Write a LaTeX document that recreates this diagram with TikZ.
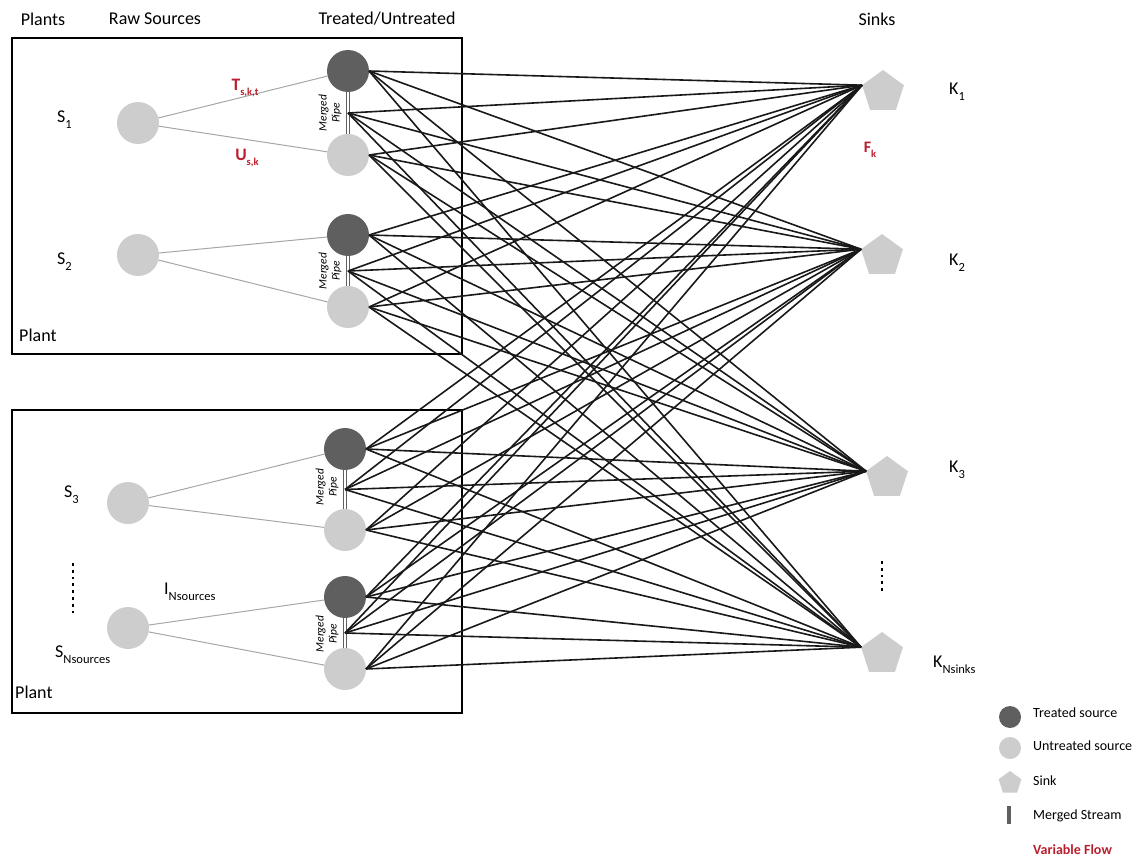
\documentclass[tikz,border=0pt]{standalone}
\usepackage{fontspec}
\setmainfont{Carlito}
\usetikzlibrary{shapes.geometric,calc}
\definecolor{treatedc}{RGB}{95,95,95}
\definecolor{rawc}{RGB}{205,205,205}
\definecolor{flowred}{RGB}{185,30,45}
\newcommand{\subtxt}[1]{\raisebox{-0.32em}{\fontsize{12.5}{12.5}\selectfont #1}}
\newcommand{\smallsub}[1]{\raisebox{-0.3em}{\fontsize{10.5}{10.5}\selectfont #1}}

\begin{document}
\begin{tikzpicture}[x=1pt,y=-1pt,
  treated/.style={circle,fill=treatedc,minimum size=42pt,inner sep=0pt,outer sep=0pt},
  untreated/.style={circle,fill=rawc,minimum size=42pt,inner sep=0pt,outer sep=0pt},
  sink/.style={regular polygon,regular polygon sides=5,fill=rawc,minimum size=44pt,inner sep=0pt,outer sep=0pt},
  flow/.style={line width=1.6pt,black!90},
  feed/.style={line width=1pt,gray!70},
  pipe/.style={draw=treatedc,double=white,line width=1.2pt,double distance=1.3pt},
  plantbox/.style={line width=2.6pt},
  head/.style={font=\fontsize{18}{20}\selectfont},
  lab/.style={font=\fontsize{18}{20}\selectfont,anchor=west,inner sep=0pt},
  var/.style={font=\bfseries\fontsize{17.5}{20}\selectfont,text=flowred},
  pipelab/.style={font=\itshape\fontsize{11.5}{13}\selectfont,rotate=90,align=center,inner sep=0pt},
  legtxt/.style={font=\fontsize{14}{16}\selectfont,anchor=west,inner sep=0pt},
  dotcol/.style={line width=2.8pt,dash pattern=on 2.8pt off 4pt}
]
\useasboundingbox (0,0) rectangle (1141,859);

% column headings
\node[head] (hplants) at (43,19) {Plants};
\node[head] (hraw) at (155,19) {Raw Sources};
\node[head] (htreat) at (387,19) {Treated/Untreated};
\node[head] (hsinks) at (877,19) {Sinks};

% plant boxes
\draw[plantbox] (12,38) rectangle (462,354);
\draw[plantbox] (12,410) rectangle (462,713);
\node[lab] (plant1) at (19,335) {Plant};
\node[lab] (plant2) at (15,692) {Plant};

% raw sources
\node[untreated] (r1) at (138,123) {};
\node[untreated] (r2) at (138,255) {};
\node[untreated] (r3) at (128,503) {};
\node[untreated] (r4) at (128,628) {};

% treated / untreated pairs
\node[treated] (t1) at (348,71) {};
\node[untreated] (u1) at (348,155) {};
\node[treated] (t2) at (348,235) {};
\node[untreated] (u2) at (348,307) {};
\node[treated] (t3) at (345,449) {};
\node[untreated] (u3) at (345,530) {};
\node[treated] (t4) at (345,597) {};
\node[untreated] (u4) at (345,669) {};

% merged pipes and feeds from the raw sources
\foreach \g in {1,...,4}{
  \coordinate (p\g) at ($(t\g.south)!0.5!(u\g.north)$);
  \draw[pipe] (t\g.south) -- (u\g.north);
  \draw[feed] (r\g) -- (t\g);
  \draw[feed] (r\g) -- (u\g);
}
\node[pipelab] (ml1) at (330,113) {Merged\\Pipe};
\node[pipelab] (ml2) at (330,271) {Merged\\Pipe};
\node[pipelab] (ml3) at (327,487) {Merged\\Pipe};
\node[pipelab] (ml4) at (327,634) {Merged\\Pipe};

% sinks
\node[sink] (k1) at (883,92) {};
\node[sink] (k2) at (882,256) {};
\node[sink] (k3) at (887,478) {};
\node[sink] (k4) at (882,654) {};

% flows to every sink
\foreach \g in {1,...,4}{
  \foreach \k in {1,...,4}{
    \draw[flow] (t\g.east) -- (k\k.corner 2);
    \draw[flow] (p\g) -- (k\k.corner 2);
    \draw[flow] (u\g.east) -- (k\k.corner 2);
  }
}

% source labels
\node[lab] (s1) at (57,120) {S\subtxt{1}};
\node[lab] (s2) at (57,262) {S\subtxt{2}};
\node[lab] (s3) at (64,495) {S\subtxt{3}};
\node[lab] (s4) at (55,655) {S\subtxt{Nsources}};
\node[lab] (inl) at (164,592) {I\subtxt{Nsources}};
\coordinate (sd1) at (73,563);
\coordinate (sd2) at (73,614);
\draw[dotcol] (sd1) -- (sd2);

% sink labels
\node[lab] (kl1) at (949,92) {K\subtxt{1}};
\node[lab] (kl2) at (949,263) {K\subtxt{2}};
\node[lab] (kl3) at (949,470) {K\subtxt{3}};
\node[lab] (kl4) at (933,665) {K\subtxt{Nsinks}};
\coordinate (kd1) at (882,561);
\coordinate (kd2) at (882,591);
\draw[dotcol] (kd1) -- (kd2);

% variable flow labels
\node[var] (tv) at (245,88) {T\smallsub{s,k,t}};
\node[var] (uv) at (247,158) {U\smallsub{s,k}};
\node[var,font=\bfseries\fontsize{16}{18}\selectfont] (fv) at (870,150) {F\smallsub{k}};

% legend
\node[treated,minimum size=22pt] (legt) at (1010,717) {};
\node[legtxt] (legtt) at (1033,713) {Treated source};
\node[untreated,minimum size=22pt] (legu) at (1010,748) {};
\node[legtxt] (leguu) at (1033,746) {Untreated source};
\node[sink,minimum size=24pt] (legs) at (1010,783) {};
\node[legtxt] (legss) at (1033,781) {Sink};
\node[fill=treatedc,minimum width=4pt,minimum height=18pt,inner sep=0pt] (legm) at (1009,815) {};
\node[legtxt] (legmm) at (1033,816) {Merged Stream};
\node[legtxt,text=flowred,font=\bfseries\fontsize{14}{16}\selectfont] (legv) at (1033,850) {Variable Flow};
\end{tikzpicture}
\end{document}
